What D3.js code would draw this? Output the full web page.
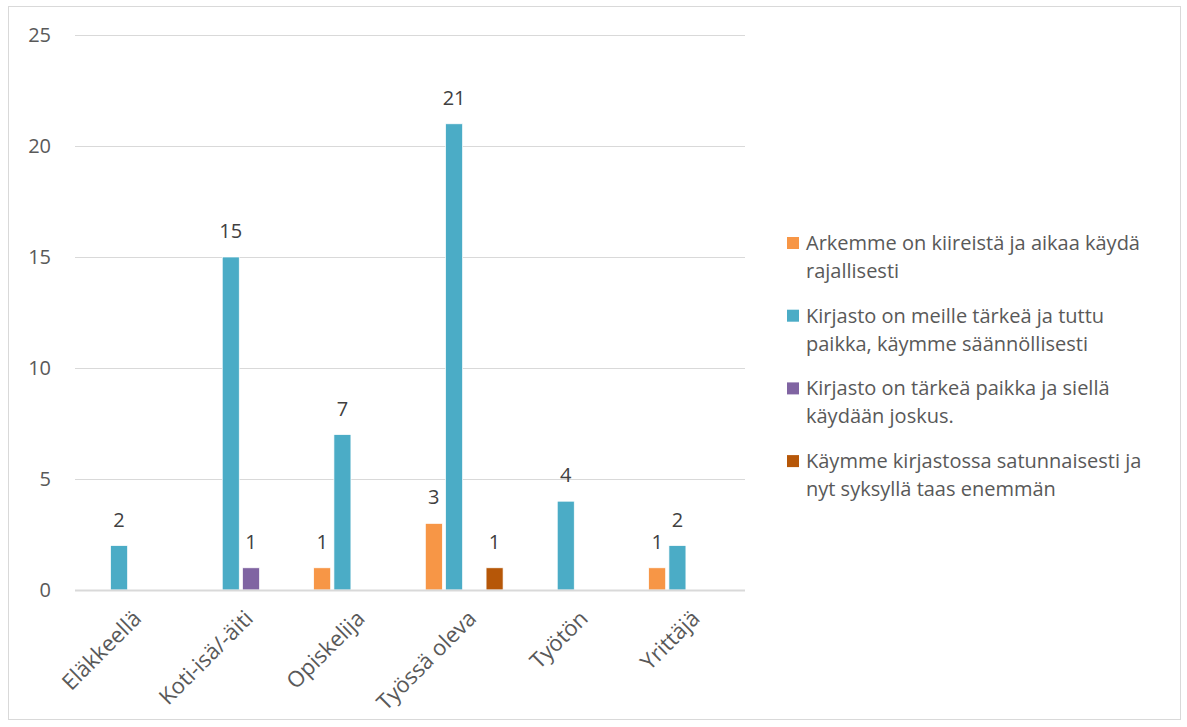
<!DOCTYPE html>
<html>
<head>
<meta charset="utf-8">
<script src="https://cdn.jsdelivr.net/npm/d3@7"></script>
<style>
  body { margin: 0; background: #fff; }
  svg text { font-family: "Open Sans", "Liberation Sans", sans-serif; fill: #595959; }
</style>
</head>
<body>
<div id="chart"></div>
<script>
var categories = ['Eläkkeellä', 'Koti-isä/-äiti', 'Opiskelija', 'Työssä oleva', 'Työtön', 'Yrittäjä'];
var seriesNames = [
  ['Arkemme on kiireistä ja aikaa käydä', 'rajallisesti'],
  ['Kirjasto on meille tärkeä ja tuttu', 'paikka, käymme säännöllisesti'],
  ['Kirjasto on tärkeä paikka ja siellä', 'käydään joskus.'],
  ['Käymme kirjastossa satunnaisesti ja', 'nyt syksyllä taas enemmän']
];
var arkemme = [null, null, 1, 3, null, 1];
var tarkeaTuttu = [2, 15, 7, 21, 4, 2];
var joskus = [null, 1, null, null, null, null];
var satunnaisesti = [null, null, null, 1, null, null];
var yTicks = [0, 5, 10, 15, 20, 25];
var colors = ['#F79646', '#4BACC6', '#8064A2', '#B65708'];

var seriesValues = [arkemme, tarkeaTuttu, joskus, satunnaisesti];

var W = 1187, H = 727;
var svg = d3.select('#chart').append('svg')
  .attr('width', W).attr('height', H);

svg.append('rect')
  .attr('x', 8.5).attr('y', 6.5)
  .attr('width', 1172).attr('height', 713)
  .attr('fill', '#fff').attr('stroke', '#d9d9d9');

var plotLeft = 75, plotRight = 745, plotTop = 35, plotBottom = 590;

var x = d3.scaleBand().domain(categories).range([plotLeft, plotRight]);
var x1 = d3.scaleBand().domain(d3.range(4)).range([0, 81]);
var groupOffset = (x.bandwidth() - 81) / 2;
var y = d3.scaleLinear().domain([0, 25]).range([plotBottom, plotTop]);

// gridlines
svg.append('g').selectAll('line')
  .data(yTicks.filter(function(d){ return d > 0; }))
  .enter().append('line')
  .attr('x1', plotLeft).attr('x2', plotRight)
  .attr('y1', function(d){ return Math.round(y(d)) + 0.5; })
  .attr('y2', function(d){ return Math.round(y(d)) + 0.5; })
  .attr('stroke', '#d9d9d9').attr('stroke-width', 1);

// y labels
svg.append('g').selectAll('text')
  .data(yTicks)
  .enter().append('text')
  .attr('x', 51)
  .attr('y', function(d){ return y(d); })
  .attr('dy', '0.36em')
  .attr('text-anchor', 'end')
  .style('font-size', '20px')
  .text(function(d){ return d; });

// bars
var bars = [];
seriesValues.forEach(function(vals, s) {
  vals.forEach(function(v, i) {
    if (v != null) bars.push({ s: s, cat: categories[i], v: v });
  });
});

var barW = 17;
var bx = function(d){ return x(d.cat) + groupOffset + x1(d.s); };

svg.append('g').selectAll('rect')
  .data(bars)
  .enter().append('rect')
  .attr('x', bx)
  .attr('y', function(d){ return y(d.v); })
  .attr('width', barW)
  .attr('height', function(d){ return y(0) - y(d.v); })
  .attr('fill', function(d){ return colors[d.s]; })
  .attr('stroke', '#fff').attr('stroke-width', 0.7);

svg.append('g').selectAll('text')
  .data(bars)
  .enter().append('text')
  .attr('x', function(d){ return bx(d) + barW / 2; })
  .attr('y', function(d){ return y(d.v) - 19; })
  .attr('text-anchor', 'middle')
  .style('font-size', '20px')
  .style('fill', '#404040')
  .text(function(d){ return d.v; });

// x axis line
svg.append('line')
  .attr('x1', plotLeft).attr('x2', plotRight)
  .attr('y1', plotBottom + 0.5).attr('y2', plotBottom + 0.5)
  .attr('stroke', '#d9d9d9').attr('stroke-width', 2);

// category labels
svg.append('g').selectAll('text')
  .data(categories)
  .enter().append('text')
  .attr('transform', function(d){
    var cx = x(d) + x.bandwidth() / 2 + 1;
    return 'translate(' + cx + ',' + 609 + ') rotate(-45)';
  })
  .attr('text-anchor', 'end')
  .attr('dy', '0.7em')
  .style('font-size', '22px')
  .text(function(d){ return d; });

// legend
var legend = svg.append('g').selectAll('g')
  .data(seriesNames)
  .enter().append('g')
  .attr('transform', function(d, i){ return 'translate(787,' + (237 + i * 72.7) + ')'; });

legend.append('rect')
  .attr('width', 12).attr('height', 12)
  .attr('fill', function(d, i){ return colors[i]; });

legend.each(function(lines) {
  var g = d3.select(this);
  lines.forEach(function(t, j) {
    g.append('text')
      .attr('x', 19)
      .attr('y', 13 + j * 28)
      .style('font-size', '20px')
      .text(t);
  });
});
</script>
</body>
</html>
